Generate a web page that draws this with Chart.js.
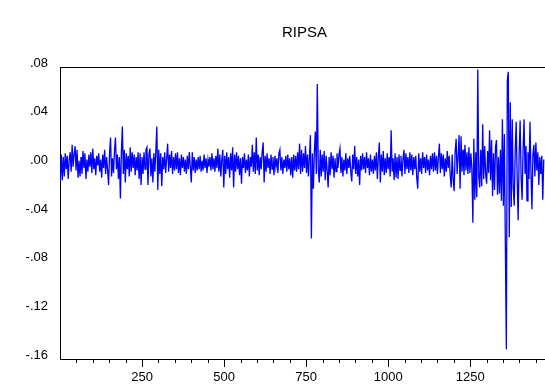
<!DOCTYPE html>
<html>
<head>
<meta charset="utf-8">
<title>RIPSA</title>
<script src="https://cdn.jsdelivr.net/npm/chart.js@4/dist/chart.umd.min.js"></script>
<style>
    html, body { margin: 0; padding: 0; overflow: hidden; background: #fff; }
    #grafico { display: block; }
</style>
</head>
<body>
<canvas id="grafico" width="560" height="392"></canvas>
<script>
const ripsa = [
    -.014, .008, -.013, .006, -.010, .009, -.004, .007, -.012, .004, .010, -.006, .016, -.002, .008, .015, -.005, .012, -.011, .003,
    -.010, .006, -.008, .011, -.003, .009, -.012, .004, -.006, .008, -.002, .010, -.007, .013, -.004, .005, -.009, .007, -.001, .009,
    -.006, .004, -.011, .008, -.003, .012, -.008, .006, -.005, -.017, .009, .022, -.010, .005, -.007, .011, .022, -.004, .008, -.012,
    .006, -.028, .010, .031, -.008, .012, -.015, .009, -.004, .007, -.010, .014, -.006, .010, -.003, .008, -.009, .006, -.005, .010,
    -.012, .009, -.017, .006, -.008, .010, -.004, .012, .014, -.017, .008, .013, -.010, .005, -.015, .009, -.006, .011, .031, -.021,
    .012, -.008, .009, -.018, .006, -.004, .010, -.007, .005, .017, -.006, .008, -.003, .011, -.008, .006, -.005, .009, -.004, .010,
    -.007, .005, -.009, .008, -.003, .006, -.006, .004, -.008, .007, -.004, .010, -.002, -.015, .010, -.005, .006, -.007, .004, -.005,
    .006, -.004, .007, -.006, .003, -.005, .008, -.003, .005, -.007, .004, -.002, .006, -.005, .009, -.004, .005, -.006, .007, -.003,
    .013, -.006, .008, -.010, .004, .012, -.019, .007, -.008, .010, -.004, .006, -.011, .009, -.005, .014, -.019, .008, -.006, .010,
    -.004, .007, -.009, .005, -.016, .006, -.003, .009, -.007, .004, -.005, .008, -.010, .006, -.002, .016, -.006, .010, -.008, .022,
    -.005, .008, -.009, .006, -.004, .010, .018, -.015, .007, -.006, .009, -.003, .005, -.008, .008, -.004, .006, -.009, .007, -.002,
    .005, -.007, .009, .012, -.005, .006, -.008, .004, -.003, .007, -.006, .008, -.004, .005, -.009, .006, -.011, .008, -.005, .007,
    -.006, .010, -.004, .017, -.008, .012, -.006, .009, -.003, .015, -.007, .008, -.010, .006, .024, -.061, .009, -.020, .010, .027,
    -.008, .066, -.004, -.015, .012, -.010, .008, -.006, .011, -.013, .007, -.005, -.019, .006, -.009, .010, -.004, .007, -.011, .005,
    -.006, .009, -.003, .008, .013, -.007, .006, -.010, .004, -.005, .009, -.008, .005, -.003, .007, -.006, -.014, .008, -.004, .015,
    -.008, .006, -.010, .004, -.017, .007, -.005, .009, -.004, .006, -.007, .010, -.003, .005, -.009, .008, -.006, .004, -.008, .007,
    -.005, .010, -.012, .006, .018, -.015, .008, -.006, .011, -.009, .005, -.007, .009, -.004, .006, -.010, .028, -.006, .005, -.013,
    .009, -.011, .006, -.012, .008, -.005, .007, -.010, .004, .012, -.008, .009, -.004, .006, -.007, .010, -.005, .008, -.009, .006,
    -.004, .007, -.011, -.020, .009, -.006, .005, -.008, .010, -.003, .006, -.007, .008, -.005, .004, -.009, .007, -.004, .009, -.006,
    .010, -.005, .007, -.008, .006, .017, -.007, .009, -.004, .008, -.010, .005, -.006, .011, -.003, .007, -.009, -.019, .008, -.012,
    -.022, .010, .021, -.008, .006, .024, -.020, .023, -.006, .012, -.009, .016, -.005, .010, -.008, .014, -.007, .009, -.004, -.048,
    .021, -.029, .010, -.027, .078, -.010, -.019, .012, -.018, .033, -.012, .015, -.008, -.016, .011, -.007, .028, -.013, .020, -.026,
    .009, -.021, .014, .020, -.025, .006, -.024, .012, -.030, .037, -.034, .025, -.066, -.152, .069, .076, -.060, .051, -.035, .037,
    -.019, -.034, .010, .035, -.012, -.046, .008, .036, -.010, -.029, .012, .037, -.008, .015, -.030, .010, -.012, .035, -.006, -.037,
    .008, .016, -.010, .018, -.005, .010, -.017, .006, -.008, .007, -.029, .004
];

// observation numbers of the readings above
const observacoes = ripsa.map((v, i) => 1 + 3 * i);

const yTicks = [-.16, -.12, -.08, -.04, 0, .04, .08];
const xRotulos = [250, 500, 750, 1000, 1250];
const xMax = 1490;

const fonte = '"Liberation Sans", Arial, sans-serif';

function formatarY(v) {
    if (Math.abs(v) < 1e-9) return '.00';
    return (v < 0 ? '-' : '') + Math.abs(v).toFixed(2).replace(/^0/, '');
}

// moldura superior e marcas do eixo x (menores a cada 50, maiores a cada 250)
const moldura = {
    id: 'moldura',
    afterDraw(chart) {
        const ctx = chart.ctx;
        const a = chart.chartArea;
        const x = chart.scales.x;
        ctx.save();
        ctx.strokeStyle = '#000';
        ctx.lineWidth = 1;
        ctx.beginPath();
        ctx.moveTo(a.left, a.top + 0.5);
        ctx.lineTo(a.right, a.top + 0.5);
        ctx.moveTo(a.right - 0.5, a.top);
        ctx.lineTo(a.right - 0.5, a.bottom);
        for (let v = 50; v < xMax; v += 50) {
            const px = Math.round(x.getPixelForValue(v)) + 0.5;
            ctx.moveTo(px, a.bottom);
            ctx.lineTo(px, a.bottom + (v % 250 === 0 ? 8 : 4));
        }
        ctx.stroke();
        ctx.restore();
    }
};

function gerarGrafico() {
    const ctx = document.getElementById('grafico').getContext('2d');
    new Chart(ctx, {
        type: 'line',
        data: {
            datasets: [{
                data: ripsa.map((v, i) => ({ x: observacoes[i], y: v })),
                borderColor: '#0000ff',
                borderWidth: 1.3,
                pointRadius: 0,
                tension: 0,
                fill: false
            }]
        },
        options: {
            responsive: false,
            animation: false,
            layout: { padding: { right: 10, left: 0, bottom: 0 } },
            scales: {
                x: {
                    type: 'linear',
                    min: 0,
                    max: xMax,
                    afterFit: s => { s.height = 33; },
                    grid: { display: false, drawTicks: false },
                    border: { display: true, color: '#000', width: 1 },
                    ticks: {
                        stepSize: 50,
                        autoSkip: false,
                        maxRotation: 0,
                        padding: 11,
                        color: '#000',
                        font: { family: fonte, size: 13 },
                        callback: v => xRotulos.includes(v) ? String(v) : ''
                    }
                },
                y: {
                    min: -.16,
                    max: .08,
                    afterFit: s => { s.width = 60; },
                    afterBuildTicks: s => { s.ticks = yTicks.map(v => ({ value: v })); },
                    grid: { display: false, drawOnChartArea: false, drawTicks: true, tickLength: 8, tickColor: '#000' },
                    border: { display: true, color: '#000', width: 1 },
                    ticks: {
                        padding: 4,
                        labelOffset: -4,
                        color: '#000',
                        font: { family: fonte, size: 13 },
                        callback: v => formatarY(v)
                    }
                }
            },
            plugins: {
                legend: { display: false },
                tooltip: { enabled: false },
                title: {
                    display: true,
                    text: 'RIPSA',
                    fullSize: false,
                    color: '#000',
                    font: { family: fonte, size: 15, weight: 'normal' },
                    padding: { top: 24, bottom: 25 }
                }
            }
        },
        plugins: [moldura]
    });
}

window.onload = gerarGrafico;
</script>
</body>
</html>
